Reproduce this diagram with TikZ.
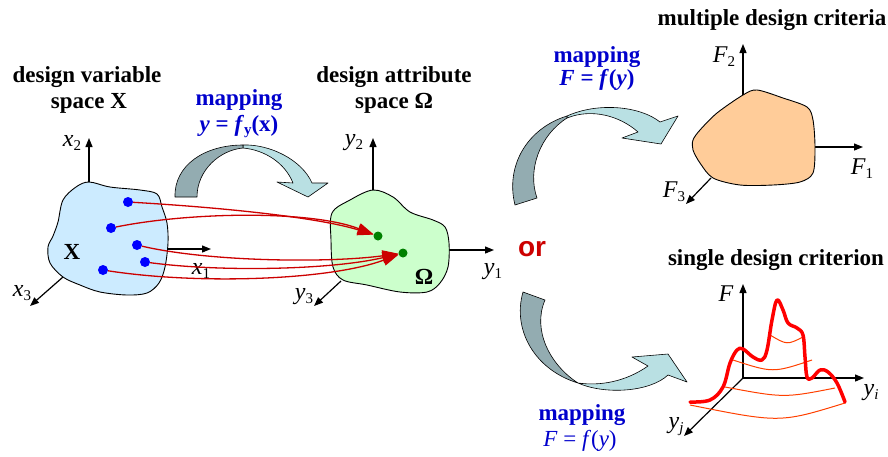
\documentclass[tikz,border=0pt]{standalone}
\usepackage{fontspec}
\setmainfont{Liberation Serif}
\newfontfamily\arialfont{Liberation Sans}
\usetikzlibrary{arrows.meta}
\definecolor{dotblue}{HTML}{0000FF}
\definecolor{textblue}{HTML}{0000CC}
\definecolor{blobblue}{HTML}{CCEBFF}
\definecolor{blobgreen}{HTML}{CCFFCC}
\definecolor{blobpeach}{HTML}{FFCC99}
\definecolor{arrdark}{HTML}{93ACB1}
\definecolor{arrlight}{HTML}{B9E0E3}
\definecolor{mapred}{HTML}{CC0000}
\definecolor{surfred}{HTML}{FF0000}
\definecolor{contourred}{HTML}{FF4000}
\definecolor{dotgreen}{HTML}{008000}
\newcommand{\lsub}[1]{\raisebox{-0.35ex}{\fontsize{15}{15}\selectfont #1}}
\tikzset{
  title/.style={font=\fontsize{23}{25}\selectfont\bfseries, inner sep=0pt, anchor=base},
  maptext/.style={title, text=textblue},
  axlabel/.style={font=\fontsize{24}{26}\selectfont, inner sep=0pt},
  axis/.style={line width=1.2pt, -{Triangle[length=9pt,width=7pt]}},
  blob/.style={draw=black, line width=0.9pt},
  ribbon/.style={draw=black, line width=0.6pt, line join=round},
  bdot/.style={circle, fill=dotblue, inner sep=0pt, minimum size=10pt},
  gdot/.style={circle, fill=dotgreen, inner sep=0pt, minimum size=9pt},
  maparrow/.style={draw=mapred, line width=1.3pt, -{Triangle[length=16pt,width=11pt]}},
  contour/.style={draw=contourred, line width=1pt}
}
\begin{document}
\begin{tikzpicture}[x=1pt,y=-1pt]
\useasboundingbox (0,0) rectangle (888,456);

% ---------- left: design variable space ----------
\node[title] (t1a) at (87,82) {design variable};
\node[title] (t1b) at (89,108) {space X};

\coordinate (xo2) at (89,182);
\coordinate (xe2) at (89,138);
\coordinate (xo1) at (168,249);
\coordinate (xe1) at (211,249);
\coordinate (xo3) at (63,277);
\coordinate (xe3) at (30,306);
\draw[axis] (xo2) -- (xe2);
\draw[axis] (xo1) -- (xe1);
\draw[axis] (xo3) -- (xe3);

\draw[blob, fill=blobblue] plot[smooth cycle, tension=0.55] coordinates {
 (89,182) (110,187) (140,190) (157,194) (162,207) (167,223) (168,243) (165,267) (159,283)
 (147,293) (127,295) (100,292) (80,285) (63,277) (50,263) (48,247) (53,236) (58,222) (63,200) (76,187)};

\node[axlabel] (lx2) at (72,143) {\textit{x}\lsub{2}};
\node[axlabel] (lx1) at (201,271) {\textit{x}\lsub{1}};
\node[axlabel] (lx3) at (22,293) {\textit{x}\lsub{3}};
\node[font=\fontsize{23}{25}\selectfont\bfseries, inner sep=0pt] (lX) at (72,252) {X};

\node[bdot] (d1) at (128,202) {};
\node[bdot] (d2) at (111,228) {};
\node[bdot] (d3) at (137,245) {};
\node[bdot] (d4) at (145,262) {};
\node[bdot] (d5) at (103,270) {};

% ---------- middle: design attribute space ----------
\node[title] (t2a) at (394,82) {design attribute};
\node[title] (t2b) at (394,108) {space Ω};

\coordinate (yo2) at (373,190);
\coordinate (ye2) at (373,138);
\coordinate (yo1) at (449,250);
\coordinate (ye1) at (494,250);
\coordinate (yo3) at (341,281);
\coordinate (ye3) at (314,306);
\draw[axis] (yo2) -- (ye2);
\draw[axis] (yo1) -- (ye1);
\draw[axis] (yo3) -- (ye3);

\draw[blob, fill=blobgreen] plot[smooth cycle, tension=0.55] coordinates {
 (332,213) (350,200) (373,190) (393,197) (410,212) (433,220) (445,227) (449,243) (448,267)
 (440,283) (427,292) (400,292) (367,285) (343,280) (333,267) (331,240)};

\node[axlabel] (ly2) at (354,143) {\textit{y}\lsub{2}};
\node[axlabel] (ly1) at (493,272) {\textit{y}\lsub{1}};
\node[axlabel] (ly3) at (304,297) {\textit{y}\lsub{3}};
\node[font=\fontsize{23}{25}\selectfont\bfseries, inner sep=0pt] (lO) at (424,277) {Ω};

\node[gdot] (g1) at (378,236) {};
\node[gdot] (g2) at (403,253) {};

% red mapping arrows
\draw[maparrow] (d1) .. controls (230,208) and (320,218) .. (g1);
\draw[maparrow] (d2) .. controls (190,212) and (310,210) .. (g1);
\draw[maparrow] (d3) .. controls (210,262) and (330,263) .. (g2);
\draw[maparrow] (d4) .. controls (220,272) and (330,270) .. (g2);
\draw[maparrow] (d5) .. controls (200,285) and (330,280) .. (g2);

% first curved ribbon arrow
\node[maptext] (m1a) at (239,105) {mapping};
\node[maptext] (m1b) at (239,131) {\textit{y} = \textit{f}\lsub{\textbf{y}}(x)};
\draw[ribbon, fill=arrlight] (243,145) .. controls (270,144) and (302,160) .. (312,183)
  -- (328,183) -- (308,197) -- (277,182) -- (293,183)
  .. controls (285,163) and (265,150) .. (243,148) -- cycle;
\draw[ribbon, fill=arrdark] (175,197) .. controls (174,165) and (205,145) .. (243,145)
  -- (243,148) .. controls (220,150) and (197,170) .. (197,197) -- cycle;

% ---------- or ----------
\node[font=\arialfont\fontsize{28}{30}\selectfont\bfseries, text=mapred, inner sep=0pt] (or) at (532,249) {or};

% ---------- upper right: multiple criteria ----------
\node[title] (t3) at (772,25) {multiple design criteria};
\node[maptext] (m2a) at (597,62) {mapping};
\node[maptext] (m2b) at (597,85) {\textit{F} = \textit{f}(\textit{y})};

\draw[ribbon, fill=arrlight] (567,116) .. controls (598,102) and (640,106) .. (660,122)
  -- (678,116) -- (661,144) -- (622,138) -- (638,132)
  .. controls (620,116) and (592,108) .. (567,118) -- cycle;
\draw[ribbon, fill=arrdark] (515,205) .. controls (505,165) and (528,128) .. (567,116)
  -- (567,118) .. controls (540,135) and (527,170) .. (537,198) -- cycle;

\coordinate (fo2) at (743,95);
\coordinate (fe2) at (743,44);
\coordinate (fo1) at (815,147);
\coordinate (fe1) at (863,147);
\coordinate (fo3) at (711,178);
\coordinate (fe3) at (686,204);
\draw[axis] (fo2) -- (fe2);
\draw[axis] (fo1) -- (fe1);
\draw[axis] (fo3) -- (fe3);

\draw[blob, fill=blobpeach] plot[smooth cycle, tension=0.5] coordinates {
 (693,140) (700,130) (717,113) (743,95) (757,90) (783,98) (807,107) (813,120) (815,147)
 (813,173) (800,182) (773,185) (740,185) (713,178) (700,163) (693,150)};

\node[axlabel] (lf2) at (724,57) {\textit{F}\lsub{2}};
\node[axlabel] (lf1) at (862,169) {\textit{F}\lsub{1}};
\node[axlabel] (lf3) at (674,192) {\textit{F}\lsub{3}};

% ---------- lower right: single criterion ----------
\node[title] (t4) at (776,265) {single design criterion};
\node[maptext] (m3a) at (582,420) {mapping};
\node[title, font=\fontsize{23}{25}\selectfont, text=textblue] (m3b) at (580,446) {\textit{F} = \textit{f}(\textit{y})};

\draw[ribbon, fill=arrlight] (578,383) .. controls (605,395) and (650,392) .. (668,375)
  -- (687,382) -- (668,354) -- (632,357) -- (648,366)
  .. controls (625,382) and (600,386) .. (578,383) -- cycle;
\draw[ribbon, fill=arrdark] (523,292) .. controls (512,330) and (535,370) .. (578,383)
  .. controls (550,365) and (532,330) .. (545,300) -- cycle;

\coordinate (so) at (743,378);
\coordinate (sF) at (743,284);
\coordinate (si) at (864,378);
\coordinate (sj) at (684,436);
\draw[axis] (so) -- (sF);
\draw[axis] (so) -- (si);
\draw[axis] (so) -- (sj);

\draw[contour] (770,335) .. controls (787,345) .. (803,337);
\draw[contour] (733,360) .. controls (773,373) .. (812,360);
\draw[contour] (725,387) .. controls (784,398) .. (835,388);
\draw[contour] (690,405) .. controls (780,423) .. (845,403);

\draw[surfred, line width=3.5pt, line join=round, line cap=round] plot[smooth, tension=0.6] coordinates {
 (690,402) (710,400) (723,387) (730,363) (737,350) (743,349) (753,357) (762,360) (767,350)
 (772,320) (777,300) (783,310) (788,323) (797,328) (803,335) (805,357) (807,377) (812,378)
 (820,370) (828,372) (837,383) (845,402)};

\node[axlabel] (lF) at (726,294) {\textit{F}};
\node[axlabel] (lyi) at (871,393) {\textit{y}\lsub{\textit{i}}};
\node[axlabel] (lyj) at (676,427) {\textit{y}\lsub{\textit{j}}};
\end{tikzpicture}
\end{document}
